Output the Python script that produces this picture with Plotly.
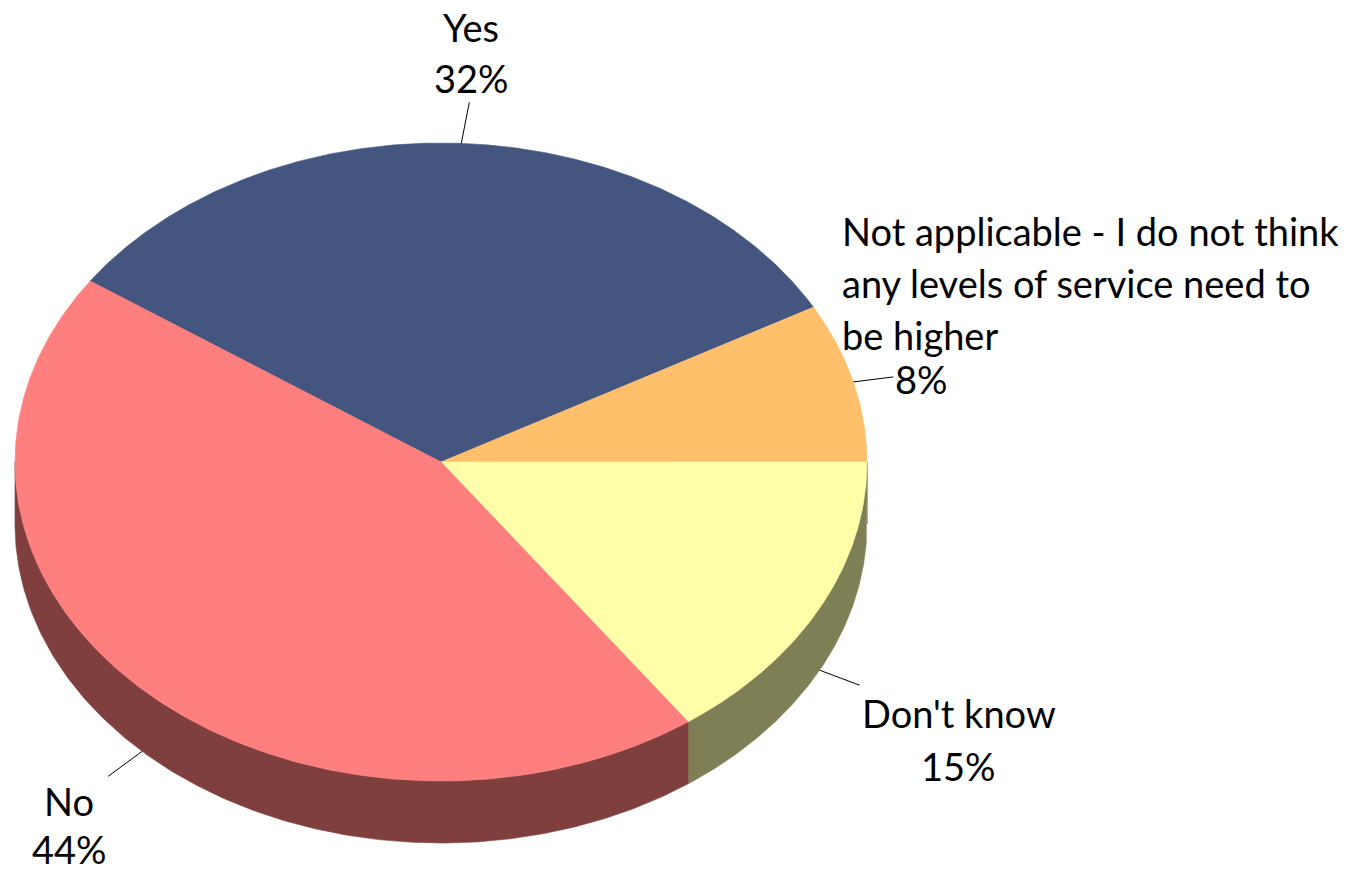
import numpy as np
import plotly.graph_objects as go

# Survey answers, clockwise from "Yes"
categories = ["Yes", "Not applicable - I do not think any levels of service need to be higher", "Don't know", "No"]
label_lines = [["Yes"], ["Not applicable - I do not think", "any levels of service need to", "be higher"], ["Don't know"], ["No"]]
values = [32, 8, 15, 44]
pct_labels = ["32%", "8%", "15%", "44%"]

top_colors = ["#44557F", "#FFBF6B", "#FFFFAA", "#FF7F7F"]
side_colors = ["#223040", "#7F5F35", "#7F7F55", "#7F3F3F"]

# Pie geometry (pixel space, y grows downward)
CX, CY = 441.0, 462.0
RX, RY = 426.0, 319.0
DEPTH = 62.0
START_DEG = 145.45  # angle where the first slice begins, slices run clockwise

W, H = 1369, 871
FONT = "Lato"
FSIZE = 38

total = float(sum(values))
spans = [v / total * 360.0 for v in values]
starts = []
a = START_DEG
for s in spans:
    starts.append(a)
    a -= s


def ell(t_deg, dy=0.0):
    t = np.radians(t_deg)
    return CX + RX * np.cos(t), CY - RY * np.sin(t) + dy


fig = go.Figure()

# Side walls: only the front half (180..360 deg) is visible
for i, (st, sp) in enumerate(zip(starts, spans)):
    hi, lo = st, st - sp
    for shift in (0, -360, 360):
        h, l = hi + shift, lo + shift
        a0, a1 = max(l, -180.0), min(h, 0.0)
        if a1 > a0:
            t = np.linspace(a0, a1, 200)
            xt, yt = ell(t)
            xb, yb = ell(t[::-1], DEPTH)
            xs = np.concatenate([xt, xb, xt[:1]])
            ys = np.concatenate([yt, yb, yt[:1]])
            fig.add_trace(go.Scatter(x=xs, y=ys, mode="lines", fill="toself",
                                     fillcolor=side_colors[i],
                                     line=dict(color=side_colors[i], width=0.6),
                                     hoverinfo="skip", showlegend=False))

# Top faces
for i, (st, sp) in enumerate(zip(starts, spans)):
    t = np.linspace(st, st - sp, 400)
    xa, ya = ell(t)
    xs = np.concatenate([[CX], xa, [CX]])
    ys = np.concatenate([[CY], ya, [CY]])
    fig.add_trace(go.Scatter(x=xs, y=ys, mode="lines", fill="toself",
                             fillcolor=top_colors[i],
                             line=dict(color=top_colors[i], width=0.6),
                             hoverinfo="skip", showlegend=False))

# Leader lines and labels, placed relative to each slice's mid-angle anchor
leader_off = [(8, -41), (40, -5), (40, 15), (-34, 25)]
on_side = [False, False, True, True]
# (dx, dy) of each text line centre from the anchor, last entry is the percentage
text_off = [
    [(10, -116), (10, -65)],
    [None, None, None, (68, -3)],
    [(139, 43), (139, 96)],
    [(-73, 50), (-73, 98)],
]
na_left = 840

annotations = []
for i, (st, sp) in enumerate(zip(starts, spans)):
    mid = st - sp / 2.0
    ax, ay = ell(mid, DEPTH if on_side[i] else 0.0)
    ax, ay = float(ax), float(ay)
    ox, oy = leader_off[i]
    fig.add_trace(go.Scatter(x=[ax, ax + ox], y=[ay, ay + oy], mode="lines",
                             line=dict(color="black", width=1),
                             hoverinfo="skip", showlegend=False))
    lines = label_lines[i] + [pct_labels[i]]
    if i == 1:
        ys0 = ay - 151
        for k, txt in enumerate(label_lines[i]):
            annotations.append(dict(x=na_left, y=ys0 + 52 * k, text=txt, showarrow=False,
                                    xanchor="left", yanchor="middle",
                                    font=dict(family=FONT, size=FSIZE, color="black")))
        dx, dy = text_off[i][3]
        annotations.append(dict(x=ax + dx, y=ay + dy, text=pct_labels[i], showarrow=False,
                                xanchor="center", yanchor="middle",
                                font=dict(family=FONT, size=FSIZE, color="black")))
    else:
        for k, txt in enumerate(lines):
            dx, dy = text_off[i][k]
            annotations.append(dict(x=ax + dx, y=ay + dy, text=txt, showarrow=False,
                                    xanchor="center", yanchor="middle", borderpad=0,
                                    font=dict(family=FONT, size=FSIZE, color="black")))

fig.update_layout(
    width=W, height=H, autosize=False,
    margin=dict(l=0, r=0, t=0, b=0),
    paper_bgcolor="white", plot_bgcolor="white",
    xaxis=dict(range=[0, W], visible=False, fixedrange=True),
    yaxis=dict(range=[H, 0], visible=False, fixedrange=True),
    annotations=annotations,
    showlegend=False,
)

fig.write_html("out.html", config={"displayModeBar": False})
